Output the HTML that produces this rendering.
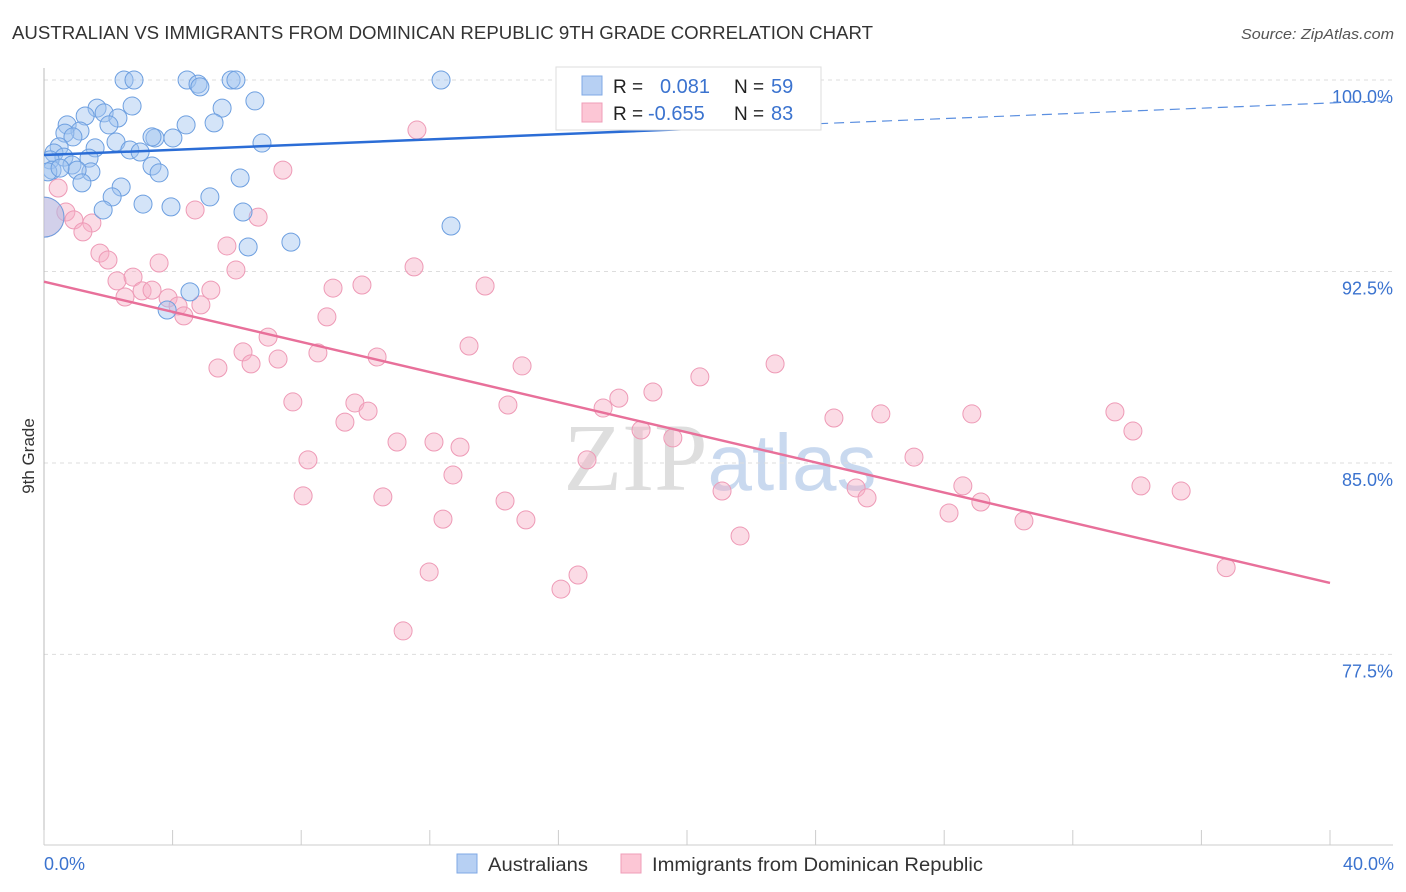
<!DOCTYPE html>
<html><head><meta charset="utf-8"><style>
body{margin:0;background:#fff;width:1406px;height:892px;overflow:hidden;font-family:"Liberation Sans",sans-serif;}
svg{position:absolute;left:0;top:0}
</style></head><body>
<svg id="chart" width="1406" height="892">
<defs><clipPath id="plotclip"><rect x="44" y="40" width="1362" height="805"/></clipPath></defs>
<text x="12" y="39" font-size="18" fill="#333" textLength="861" lengthAdjust="spacingAndGlyphs">AUSTRALIAN VS IMMIGRANTS FROM DOMINICAN REPUBLIC 9TH GRADE CORRELATION CHART</text>
<text x="1241" y="39" font-size="15" fill="#555" font-style="italic" textLength="153" lengthAdjust="spacingAndGlyphs">Source: ZipAtlas.com</text>
<text x="720" y="490" font-size="96" fill="#d6d6d6" text-anchor="middle" font-family="Liberation Serif,serif" opacity="0.8">ZIP<tspan fill="#bcd0ec" font-family="Liberation Sans,sans-serif" font-size="80">atlas</tspan></text>
<g id="grid"></g><g id="pts" clip-path="url(#plotclip)"></g><g id="trends"></g>
<text x="34" y="456" font-size="17" fill="#333" text-anchor="middle" transform="rotate(-90 34 456)">9th Grade</text>
<text x="44" y="870" font-size="18" fill="#3b73cf">0.0%</text>
<text x="1394" y="870" font-size="18" fill="#3b73cf" text-anchor="end">40.0%</text>
<g>
<rect x="556" y="67" width="265" height="63" fill="#fff" stroke="#ddd"/>
<rect x="582" y="76" width="20" height="19" fill="#b7d0f3" stroke="#7fa8e6"/>
<rect x="582" y="103" width="20" height="19" fill="#fcc6d5" stroke="#ef9db8"/>
<text x="613" y="93" font-size="19" fill="#222">R = </text><text x="660" y="93" font-size="20" fill="#3b73cf">0.081</text>
<text x="734" y="93" font-size="19" fill="#222">N = </text><text x="771" y="93" font-size="20" fill="#3b73cf">59</text>
<text x="613" y="120" font-size="19" fill="#222">R = </text><text x="648" y="120" font-size="20" fill="#3b73cf">-0.655</text>
<text x="734" y="120" font-size="19" fill="#222">N = </text><text x="771" y="120" font-size="20" fill="#3b73cf">83</text>
</g>
<g>
<rect x="457" y="854" width="20" height="19" fill="#b7d0f3" stroke="#7fa8e6"/>
<text x="488" y="871" font-size="19" fill="#333" textLength="100" lengthAdjust="spacingAndGlyphs">Australians</text>
<rect x="621" y="854" width="20" height="19" fill="#fcc6d5" stroke="#ef9db8"/>
<text x="652" y="871" font-size="19" fill="#333" textLength="331" lengthAdjust="spacingAndGlyphs">Immigrants from Dominican Republic</text>
</g>
</svg>
<script>
const yTicks=[100,92.5,85,77.5];
const yTickLabels=["100.0%","92.5%","85.0%","77.5%"];
const xTicks=[0,4,8,12,16,20,24,28,32,36,40];
const blueX=[2.49,2.80,4.45,4.79,4.85,5.82,5.97,12.35,18.29,1.65,1.87,1.28,2.30,2.74,5.54,6.56,0.72,1.12,2.02,0.65,0.90,4.42,5.29,4.01,3.45,3.36,6.78,0.47,1.59,2.24,2.67,2.99,0.31,0.62,1.40,0.19,0.87,3.36,3.58,1.46,0.25,1.03,1.18,6.10,2.40,2.12,5.16,3.08,3.95,1.84,6.19,7.68,6.35,12.66,4.54,3.83,0.0,0.12,0.50];
const blueY=[100,100,100,99.84,99.73,100,100,100,100,98.90,98.71,98.59,98.51,98.98,98.90,99.18,98.24,98.00,98.24,97.92,97.77,98.24,98.32,97.73,97.73,97.77,97.53,97.38,97.34,97.57,97.26,97.18,97.14,96.98,96.94,96.87,96.67,96.63,96.36,96.40,96.47,96.47,95.97,96.16,95.81,95.42,95.42,95.14,95.03,94.91,94.83,93.65,93.46,94.28,91.70,90.99,94.63,96.40,96.55];
const pinkX=[0,0.44,0.68,0.93,1.49,1.21,1.74,1.99,2.27,2.77,2.52,3.05,3.36,3.58,3.86,4.17,4.35,4.70,4.88,5.19,5.69,5.97,6.66,7.43,11.60,5.41,6.19,6.44,6.97,7.28,7.74,8.21,8.06,8.52,8.80,8.99,9.36,9.67,9.89,10.08,10.36,10.54,10.98,11.17,11.51,11.98,12.13,12.41,12.72,12.94,13.22,13.72,14.34,14.43,14.87,14.99,16.08,16.61,16.89,17.39,17.88,18.57,18.94,19.56,20.40,21.09,21.65,22.74,24.57,25.26,25.60,26.03,27.06,28.15,28.58,28.86,29.14,30.48,33.31,33.87,34.12,35.37,36.77];
const pinkY=[94.63,95.77,94.83,94.52,94.40,94.05,93.22,92.95,92.13,92.28,91.50,91.74,91.77,92.83,91.46,91.15,90.76,94.91,91.19,91.77,93.50,92.56,94.63,96.47,98.04,88.72,89.35,88.88,89.93,89.07,87.39,85.12,83.71,89.31,90.72,91.85,86.60,87.35,91.97,87.03,89.15,83.67,85.82,78.42,92.68,80.73,85.82,82.80,84.53,85.62,89.58,91.93,83.51,87.27,88.80,82.77,80.06,80.61,85.12,87.15,87.54,86.29,87.78,85.98,88.37,83.90,82.14,88.88,86.76,84.02,83.63,86.92,85.23,83.04,84.10,86.92,83.47,82.73,87.00,86.25,84.10,83.90,80.90];
const blueTrend=[97.06,99.2];
const pinkTrend=[92.1,80.3];
const NS="http://www.w3.org/2000/svg";
const X=v=>44+v*32.15, Y=v=>80+(100-v)*25.53;
function mk(t,a,p){const e=document.createElementNS(NS,t);for(const k in a)e.setAttribute(k,a[k]);p.appendChild(e);return e;}
const grid=document.getElementById('grid');
yTicks.forEach((t,i)=>{
 const l=mk('line',{x1:44,x2:1393,y1:Y(t),y2:Y(t),stroke:'#ddd','stroke-dasharray':'4,4'},grid);
 
 
 const tx=mk('text',{x:1393,y:Y(t)+23,'font-size':18,fill:'#3b73cf','text-anchor':'end'},grid);
 tx.textContent=yTickLabels[i];
 
 
});
const ax=mk('line',{x1:44,x2:1393,y1:845,y2:845,stroke:'#ccc'},grid);


const ay=mk('line',{x1:44,x2:44,y1:68,y2:845,stroke:'#bbb'},grid);


xTicks.forEach(t=>{const l=mk('line',{x1:X(t),x2:X(t),y1:830,y2:845,stroke:'#ccc'},grid);
 
 });
const pts=document.getElementById('pts');
pinkX.forEach((x,i)=>{const c=mk('circle',{cx:X(x),cy:Y(pinkY[i]),r:i==0?20:9,fill:'rgba(247,175,198,0.45)',stroke:'#ee9ab6','stroke-width':1},pts);
 
 });
blueX.forEach((x,i)=>{const c=mk('circle',{cx:X(x),cy:Y(blueY[i]),r:i==56?20:9,fill:'rgba(160,195,240,0.45)',stroke:'#6d9fe0','stroke-width':1},pts);
 
 });
const tr=document.getElementById('trends');
const bx2=41.96, bsplit=20.1;
const by=v=>blueTrend[0]+(blueTrend[1]-blueTrend[0])*v/bx2;
const b1=mk('line',{x1:X(0),y1:Y(by(0)),x2:X(bsplit),y2:Y(by(bsplit)),stroke:'#2b6dd6','stroke-width':2.5},tr);


const b2=mk('line',{x1:X(bsplit),y1:Y(by(bsplit)),x2:X(bx2),y2:Y(by(bx2)),stroke:'#5b8fe0','stroke-width':1.2,'stroke-dasharray':'10,6'},tr);


const p1=mk('line',{x1:X(0),y1:Y(pinkTrend[0]),x2:X(40),y2:Y(pinkTrend[1]),stroke:'#e8709a','stroke-width':2.5},tr);


</script>
</body></html>
